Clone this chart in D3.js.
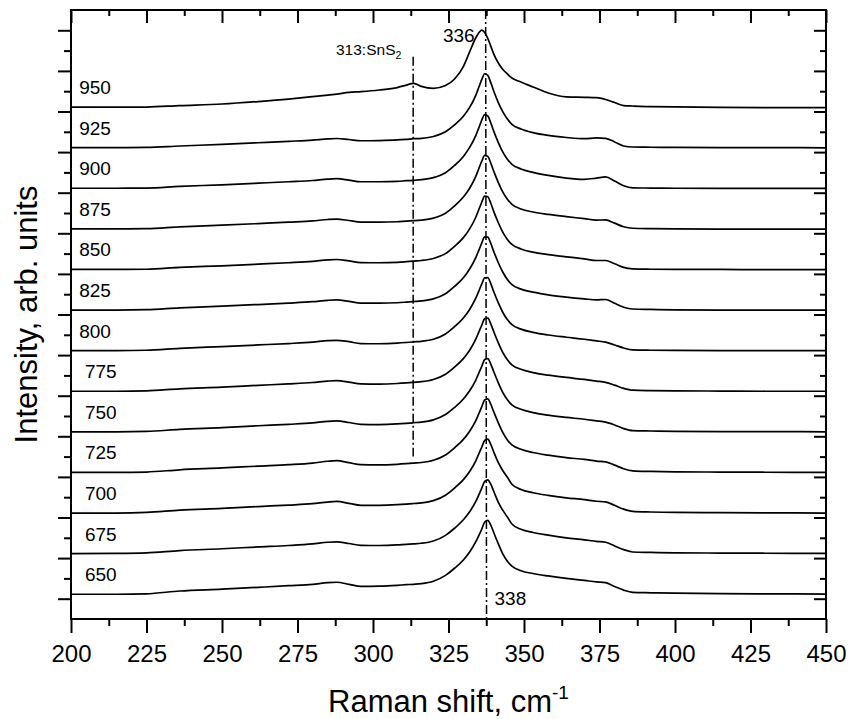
<!DOCTYPE html>
<html>
<head>
<meta charset="utf-8">
<script src="https://cdn.jsdelivr.net/npm/d3@7"></script>
<style>
  html, body { margin: 0; padding: 0; background: #fff; }
  svg { display: block; font-family: "Liberation Sans", Arial, sans-serif; }
</style>
</head>
<body>
<svg id="chart" width="851" height="719"></svg>
<script>
// ---------------- DATA ----------------
const temps = [650, 675, 700, 725, 750, 775, 800, 825, 850, 875, 900, 925, 950];
const offsets = [1, 3, 5, 7, 9, 11, 13, 15, 17, 19, 21, 23, 25];
const xTicks = [200, 225, 250, 275, 300, 325, 350, 375, 400, 425, 450];

// Raman shift grid (cm-1) shared by every spectrum
const xGrid = [200, 215, 225, 236, 250, 262, 272, 280, 285, 288, 292, 296, 302, 308, 311, 313.5, 316, 320, 324, 327,
  330, 332, 334, 335, 336, 337, 338, 339, 340, 341.5, 343, 344.5, 346, 349, 353, 358, 364, 370, 374, 377,
  380, 383, 386, 392, 400, 415, 430, 450];

// intensities (arb. units), one list per annealing temperature
const s650 = [0.22,0.22,0.24,0.38,0.47,0.56,0.64,0.71,0.79,0.81,0.71,0.61,0.62,0.66,0.69,0.71,0.74,0.86,1.15,1.5,
  1.92,2.3,2.8,3.1,3.42,3.78,3.86,3.62,3.25,2.7,2.2,1.85,1.6,1.38,1.24,1.12,1.0,0.9,0.83,0.79,
  0.6,0.42,0.31,0.29,0.27,0.25,0.24,0.23];
const s675 = [0.22,0.23,0.26,0.37,0.46,0.55,0.62,0.7,0.78,0.8,0.72,0.63,0.62,0.65,0.68,0.7,0.73,0.84,1.12,1.47,
  1.9,2.28,2.78,3.1,3.44,3.78,3.85,3.64,3.28,2.75,2.35,2.02,1.68,1.42,1.26,1.13,1.0,0.9,0.82,0.78,
  0.6,0.42,0.3,0.28,0.26,0.25,0.24,0.23];
const s700 = [0.22,0.22,0.25,0.36,0.45,0.54,0.61,0.68,0.76,0.79,0.7,0.6,0.6,0.63,0.66,0.69,0.72,0.83,1.1,1.45,
  1.88,2.27,2.78,3.12,3.46,3.8,3.86,3.6,3.22,2.7,2.3,1.98,1.64,1.38,1.22,1.09,0.97,0.88,0.8,0.77,
  0.6,0.41,0.3,0.27,0.25,0.24,0.23,0.22];
const s725 = [0.22,0.22,0.24,0.35,0.44,0.53,0.6,0.68,0.77,0.8,0.7,0.6,0.59,0.62,0.65,0.68,0.71,0.82,1.08,1.43,
  1.86,2.25,2.76,3.1,3.45,3.79,3.84,3.58,3.2,2.66,2.18,1.82,1.58,1.36,1.2,1.07,0.95,0.86,0.78,0.74,
  0.58,0.4,0.3,0.27,0.25,0.24,0.23,0.22];
const s750 = [0.22,0.22,0.24,0.34,0.43,0.52,0.59,0.66,0.74,0.76,0.68,0.59,0.58,0.61,0.64,0.67,0.7,0.81,1.07,1.42,
  1.85,2.24,2.76,3.1,3.44,3.78,3.83,3.56,3.18,2.63,2.15,1.8,1.55,1.33,1.17,1.04,0.93,0.84,0.76,0.7,
  0.56,0.38,0.28,0.26,0.24,0.23,0.23,0.22];
const s775 = [0.22,0.22,0.24,0.34,0.42,0.51,0.58,0.65,0.72,0.74,0.67,0.58,0.57,0.6,0.63,0.66,0.69,0.8,1.06,1.41,
  1.84,2.24,2.77,3.12,3.47,3.8,3.82,3.54,3.15,2.6,2.12,1.77,1.52,1.3,1.14,1.01,0.9,0.8,0.72,0.66,
  0.52,0.36,0.27,0.25,0.24,0.23,0.22,0.22];
const s800 = [0.22,0.22,0.24,0.33,0.42,0.5,0.57,0.64,0.71,0.73,0.66,0.57,0.56,0.59,0.62,0.65,0.68,0.78,1.04,1.4,
  1.84,2.25,2.79,3.14,3.5,3.81,3.82,3.52,3.12,2.57,2.1,1.75,1.5,1.28,1.12,0.99,0.88,0.78,0.7,0.64,
  0.5,0.35,0.26,0.24,0.23,0.22,0.22,0.22];
const s825 = [0.22,0.22,0.24,0.33,0.41,0.49,0.56,0.63,0.7,0.72,0.65,0.56,0.56,0.58,0.61,0.64,0.67,0.77,1.02,1.38,
  1.82,2.24,2.79,3.15,3.52,3.82,3.81,3.5,3.1,2.55,2.08,1.72,1.47,1.25,1.1,0.97,0.86,0.77,0.72,0.74,
  0.55,0.36,0.27,0.25,0.23,0.22,0.22,0.22];
const s850 = [0.22,0.22,0.23,0.32,0.4,0.48,0.55,0.62,0.69,0.71,0.64,0.56,0.55,0.57,0.6,0.63,0.66,0.76,1.0,1.36,
  1.8,2.22,2.78,3.15,3.53,3.83,3.8,3.48,3.07,2.52,2.05,1.7,1.45,1.23,1.07,0.95,0.84,0.74,0.66,0.66,
  0.5,0.32,0.25,0.23,0.22,0.22,0.21,0.21];
const s875 = [0.22,0.22,0.23,0.32,0.4,0.48,0.55,0.61,0.68,0.7,0.63,0.55,0.55,0.57,0.6,0.62,0.65,0.75,0.99,1.35,
  1.8,2.22,2.79,3.17,3.55,3.84,3.79,3.46,3.05,2.5,2.03,1.68,1.43,1.2,1.05,0.93,0.82,0.72,0.65,0.66,
  0.5,0.32,0.25,0.23,0.22,0.21,0.21,0.21];
const s900 = [0.22,0.22,0.23,0.31,0.39,0.47,0.54,0.6,0.67,0.69,0.62,0.54,0.54,0.56,0.59,0.61,0.64,0.74,0.98,1.34,
  1.8,2.23,2.8,3.18,3.57,3.85,3.78,3.44,3.02,2.47,2.0,1.65,1.4,1.17,1.0,0.85,0.72,0.66,0.72,0.78,
  0.58,0.34,0.24,0.23,0.22,0.21,0.21,0.21];
const s925 = [0.22,0.22,0.23,0.3,0.38,0.46,0.53,0.59,0.65,0.67,0.62,0.56,0.57,0.6,0.63,0.66,0.68,0.77,1.0,1.34,
  1.78,2.2,2.78,3.18,3.57,3.86,3.78,3.42,3.0,2.44,1.98,1.63,1.37,1.14,0.96,0.82,0.72,0.66,0.7,0.68,
  0.5,0.3,0.25,0.24,0.23,0.22,0.22,0.21];
const s950 = [0.22,0.22,0.22,0.29,0.37,0.49,0.61,0.73,0.81,0.86,0.94,0.98,1.06,1.18,1.3,1.39,1.24,1.14,1.28,1.6,
  2.24,2.94,3.62,3.87,4.01,3.89,3.6,3.22,2.83,2.39,2.07,1.85,1.65,1.45,1.21,0.91,0.72,0.7,0.68,0.59,
  0.44,0.29,0.27,0.24,0.23,0.2,0.19,0.19];

const spectra = [s650, s675, s700, s725, s750, s775, s800, s825, s850, s875, s900, s925, s950];

// reference lines (Raman shift) and their labels
const snsLine = {x1: 313.3, x2: 313.3, y1: 27.7, y2: 8.0};
const mainLine = {x1: 337.3, x2: 337.6, y1: 30, y2: 0};

// ---------------- CHART ----------------
const W = 851, H = 719;
const mLeft = 71, mRight = 826, mTop = 10, mBottom = 619;
const svg = d3.select("#chart");

const x = d3.scaleLinear().domain([200, 450]).range([mLeft, mRight]);
const y = d3.scaleLinear().domain([0, 30]).range([mBottom, mTop]);

const font = '"Liberation Sans", Arial, sans-serif';

// spectra
const g = svg.append("g");
spectra.forEach((vals, k) => {
  const off = offsets[k];
  const line = d3.line()
    .x((d, i) => x(xGrid[i]))
    .y(d => y(off + d))
    .curve(d3.curveMonotoneX);
  g.append("path")
    .datum(vals)
    .attr("d", line)
    .attr("fill", "none")
    .attr("stroke", "#000")
    .attr("stroke-width", 1.7)
    .attr("stroke-linejoin", "round");
  const t = temps[k];
  svg.append("text")
    .attr("x", t >= 800 ? x(202.7) : x(204.6))
    .attr("y", y(off + vals[0]) - 13)
    .attr("font-size", 19)
    .attr("font-family", font)
    .attr("fill", "#000")
    .text(t);
});

// dash-dot reference lines
[snsLine, mainLine].forEach(l => {
  svg.append("line")
    .attr("x1", x(l.x1)).attr("x2", x(l.x2))
    .attr("y1", y(l.y1)).attr("y2", y(l.y2))
    .attr("stroke", "#000")
    .attr("stroke-width", 1.5)
    .attr("stroke-dasharray", "9,3,2,3");
});

// annotations
const ann = svg.append("text")
  .attr("x", 336).attr("y", 55)
  .attr("font-size", 15.5)
  .attr("font-family", font)
  .text("313:SnS");
ann.append("tspan").attr("font-size", 10.5).attr("dy", 4).text("2");

svg.append("text")
  .attr("x", x(mainLine.x1) - 11).attr("y", 42)
  .attr("text-anchor", "end")
  .attr("font-size", 19)
  .attr("font-family", font)
  .text("336");

svg.append("text")
  .attr("x", x(mainLine.x2) + 8).attr("y", 605)
  .attr("font-size", 19)
  .attr("font-family", font)
  .text("338");

// ---------------- AXES ----------------
const minorX = d3.range(212.5, 450, 25);
const majorY = d3.range(1, 30, 2);
const minorY = d3.range(2, 30, 2);

function styleAxis(sel) {
  sel.select(".domain").remove();
  sel.selectAll("line").attr("stroke", "#000").attr("stroke-width", 2);
}

const bx = svg.append("g").attr("transform", `translate(0,${mBottom})`)
  .call(d3.axisBottom(x).tickValues(xTicks).tickSize(14).tickPadding(12).tickFormat(d3.format("d")));
styleAxis(bx);
bx.selectAll("text").attr("font-size", 24).attr("font-family", font).attr("fill", "#000");
const bxm = svg.append("g").attr("transform", `translate(0,${mBottom})`)
  .call(d3.axisBottom(x).tickValues(minorX).tickSize(7).tickFormat(""));
styleAxis(bxm);

const tx = svg.append("g").attr("transform", `translate(0,${mTop})`)
  .call(d3.axisTop(x).tickValues(xTicks).tickSize(-13).tickFormat(""));
styleAxis(tx);
const txm = svg.append("g").attr("transform", `translate(0,${mTop})`)
  .call(d3.axisTop(x).tickValues(minorX).tickSize(-6).tickFormat(""));
styleAxis(txm);

const ly = svg.append("g").attr("transform", `translate(${mLeft},0)`)
  .call(d3.axisLeft(y).tickValues(majorY).tickSize(13).tickFormat(""));
styleAxis(ly);
const lym = svg.append("g").attr("transform", `translate(${mLeft},0)`)
  .call(d3.axisLeft(y).tickValues(minorY).tickSize(7).tickFormat(""));
styleAxis(lym);

const ry = svg.append("g").attr("transform", `translate(${mRight},0)`)
  .call(d3.axisRight(y).tickValues(majorY).tickSize(-12).tickFormat(""));
styleAxis(ry);
const rym = svg.append("g").attr("transform", `translate(${mRight},0)`)
  .call(d3.axisRight(y).tickValues(minorY).tickSize(-6).tickFormat(""));
styleAxis(rym);

svg.append("rect")
  .attr("x", mLeft).attr("y", mTop)
  .attr("width", mRight - mLeft).attr("height", mBottom - mTop)
  .attr("fill", "none").attr("stroke", "#000").attr("stroke-width", 2);

const xt = svg.append("text")
  .attr("x", (mLeft + mRight) / 2).attr("y", 712)
  .attr("text-anchor", "middle")
  .attr("font-size", 31)
  .attr("font-family", font)
  .text("Raman shift, cm");
xt.append("tspan").attr("font-size", 19).attr("dy", -13).text("-1");

svg.append("text")
  .attr("transform", `translate(37,${(mTop + mBottom) / 2}) rotate(-90)`)
  .attr("text-anchor", "middle")
  .attr("font-size", 31)
  .attr("font-family", font)
  .text("Intensity, arb. units");
</script>
</body>
</html>
